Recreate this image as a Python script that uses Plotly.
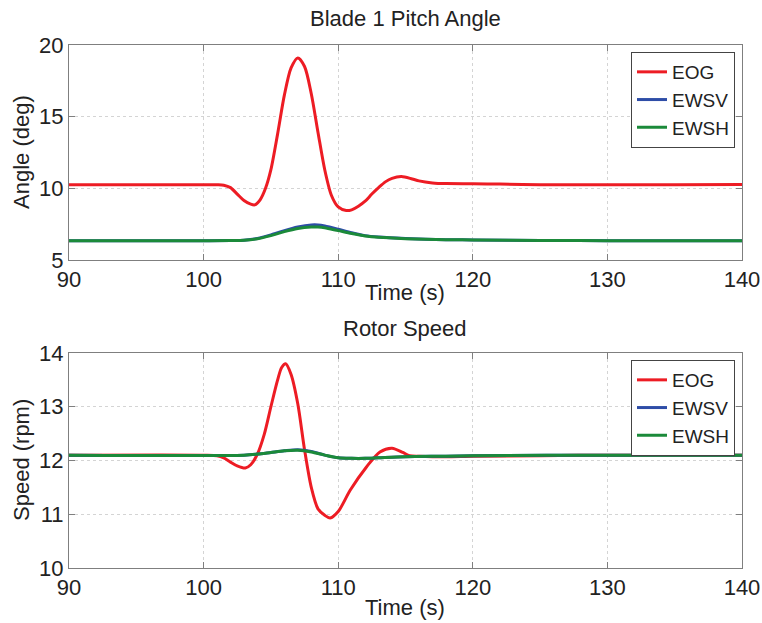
import plotly.graph_objects as go

# ---- data ----
t_pitch_eog = [90, 95, 100, 101, 101.5, 102, 102.5, 103, 103.5, 103.8, 104.2, 104.6, 105, 105.5, 106, 106.5, 107,
               107.5, 108, 108.5, 109, 109.5, 110, 110.6, 111, 111.5, 112, 112.5, 113, 113.5, 114, 114.7, 115.5,
               116, 117, 118, 120, 122, 125, 130, 135, 140]
pitch_eog = [10.25, 10.25, 10.25, 10.25, 10.22, 10.05, 9.6, 9.15, 8.9, 8.85, 9.2, 10.0, 11.3, 13.8, 16.5, 18.4, 19.1,
             18.5, 16.6, 13.9, 11.3, 9.5, 8.7, 8.45, 8.5, 8.75, 9.1, 9.6, 10.05, 10.45, 10.7, 10.82, 10.65,
             10.52, 10.38, 10.33, 10.32, 10.3, 10.25, 10.25, 10.25, 10.27]

t_pitch_ews = [90, 100, 102, 103, 104, 105, 106, 107, 108, 108.5, 109, 110, 111, 112, 113, 115, 118, 120, 125, 130, 140]
pitch_ewsv = [6.35, 6.35, 6.36, 6.38, 6.5, 6.75, 7.05, 7.3, 7.45, 7.45, 7.38, 7.15, 6.9, 6.7, 6.6, 6.5, 6.42, 6.4, 6.36, 6.35, 6.35]
pitch_ewsh = [6.35, 6.35, 6.36, 6.38, 6.48, 6.7, 6.98, 7.2, 7.3, 7.3, 7.25, 7.05, 6.85, 6.68, 6.58, 6.49, 6.42, 6.4, 6.36, 6.35, 6.35]

t_speed_eog = [90, 100, 101, 101.5, 102, 102.5, 103.1, 103.5, 104, 104.5, 105, 105.5, 105.8, 106.1, 106.5, 107,
               107.5, 108, 108.5, 109, 109.4, 110, 110.9, 112.1, 113.1, 114, 114.8, 115.3, 116, 118, 120, 125, 130, 140]
speed_eog = [12.1, 12.1, 12.09, 12.05, 11.97, 11.9, 11.86, 11.92, 12.12, 12.48, 13.0, 13.5, 13.73, 13.8, 13.6, 13.05,
             12.2, 11.5, 11.1, 10.98, 10.93, 11.05, 11.45, 11.88, 12.16, 12.23, 12.15, 12.09, 12.08, 12.07, 12.08, 12.09, 12.1, 12.1]

t_speed_ews = [90, 103, 104, 105, 106, 107, 108, 109, 110, 111, 112, 113, 115, 118, 120, 130, 140]
speed_ewsv = [12.1, 12.1, 12.12, 12.15, 12.18, 12.2, 12.17, 12.1, 12.05, 12.04, 12.04, 12.05, 12.07, 12.08, 12.09, 12.1, 12.1]
speed_ewsh = [12.1, 12.1, 12.12, 12.15, 12.18, 12.19, 12.16, 12.1, 12.05, 12.04, 12.04, 12.05, 12.07, 12.08, 12.09, 12.1, 12.1]

names = ["EOG", "EWSV", "EWSH"]
colors = ["#ED1C24", "#2E4DA7", "#1B8A3A"]

W, H = 762, 623
FONT = "Liberation Sans, Arial, sans-serif"
TXT = "#222222"

fig = go.Figure()
top = [(t_pitch_eog, pitch_eog), (t_pitch_ews, pitch_ewsv), (t_pitch_ews, pitch_ewsh)]
bot = [(t_speed_eog, speed_eog), (t_speed_ews, speed_ewsv), (t_speed_ews, speed_ewsh)]
for (x, y), n, c in zip(top, names, colors):
    fig.add_trace(go.Scatter(x=x, y=y, name=n, mode="lines", line=dict(color=c, width=3, shape="spline", smoothing=0.8),
                             xaxis="x", yaxis="y", legend="legend"))
for (x, y), n, c in zip(bot, names, colors):
    fig.add_trace(go.Scatter(x=x, y=y, name=n, mode="lines", line=dict(color=c, width=3, shape="spline", smoothing=0.8),
                             xaxis="x2", yaxis="y2", legend="legend2"))

def px_x(p):
    return p / W

def px_y(p):
    return 1 - p / H

xdom = [px_x(69), px_x(742)]
axcommon = dict(showline=True, linecolor="#7f7f7f", linewidth=1, mirror="ticks", ticks="inside", ticklen=6,
                tickcolor="#7f7f7f", showgrid=True, gridcolor="#d4d4d4", griddash="dot", gridwidth=1,
                zeroline=False, automargin=False, tickfont=dict(family=FONT, size=22, color=TXT))

legcommon = dict(xanchor="right", yanchor="top", bgcolor="white", bordercolor="#444444", borderwidth=1,
                 entrywidth=80, font=dict(family=FONT, size=19, color=TXT))

fig.update_layout(
    width=W, height=H, margin=dict(l=0, r=0, t=0, b=0),
    paper_bgcolor="white", plot_bgcolor="white",
    font=dict(family=FONT, color=TXT),
    xaxis=dict(domain=xdom, range=[90, 140], dtick=10, anchor="y", **axcommon),
    yaxis=dict(domain=[px_y(260), px_y(45)], range=[5, 20], dtick=5, anchor="x", **axcommon),
    xaxis2=dict(domain=xdom, range=[90, 140], dtick=10, anchor="y2", **axcommon),
    yaxis2=dict(domain=[px_y(568), px_y(353)], range=[10, 14], dtick=1, anchor="x2", **axcommon),
    legend=dict(x=px_x(735), y=px_y(52), **legcommon),
    legend2=dict(x=px_x(735), y=px_y(360), **legcommon),
    showlegend=True,
)

ann = [
    ("Blade 1 Pitch Angle", 405, 18, 0),
    ("Time (s)", 405, 293, 0),
    ("Rotor Speed", 405, 328, 0),
    ("Time (s)", 405, 607, 0),
    ("Angle (deg)", 22, 152, -90),
    ("Speed (rpm)", 22, 460, -90),
]
for text, x, y, rot in ann:
    fig.add_annotation(text=text, x=px_x(x), y=px_y(y), xref="paper", yref="paper", showarrow=False,
                       xanchor="center", yanchor="middle", textangle=rot,
                       font=dict(family=FONT, size=22, color=TXT))

fig.write_html("out.html")
